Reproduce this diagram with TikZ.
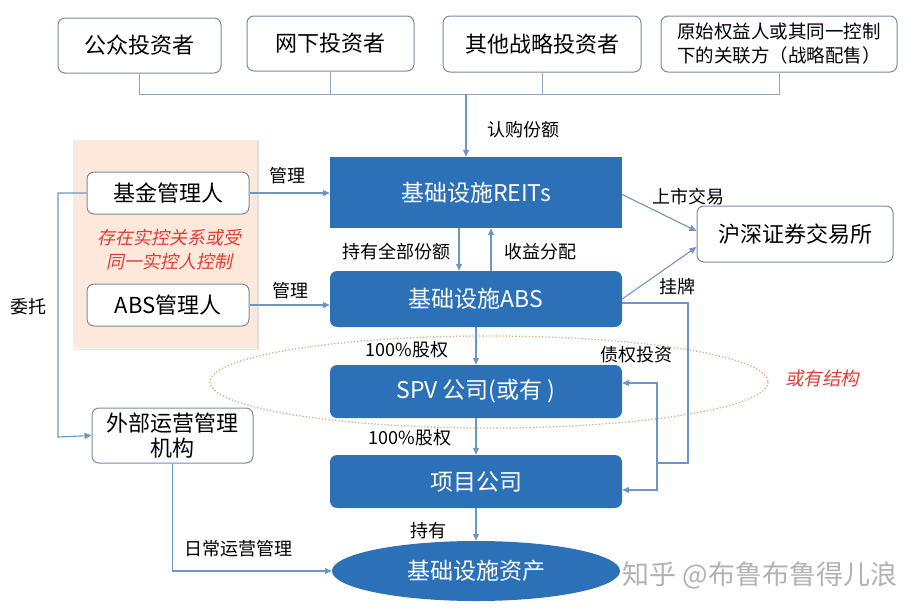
\documentclass[tikz,border=0pt]{standalone}
\usepackage{fontspec}
\setmainfont{Noto Sans CJK SC}
\newfontfamily\slantcjk[FakeSlant=0.2]{Noto Sans CJK SC}
\usepackage{xcolor}
\usetikzlibrary{arrows.meta,calc,positioning,shapes.geometric}
\definecolor{reitblue}{RGB}{44,112,184}
\definecolor{boxline}{RGB}{118,140,160}
\definecolor{linkblue}{RGB}{108,150,196}
\definecolor{busgray}{RGB}{140,168,190}
\definecolor{pinkbg}{RGB}{252,233,220}
\definecolor{notered}{RGB}{222,62,56}
\definecolor{ringtan}{RGB}{226,172,130}

\begin{document}
\begin{tikzpicture}[x=1pt,y=-1pt,>={Triangle[length=7pt,width=6pt]},
  wbox/.style={draw=boxline,line width=1pt,fill=white,rounded corners=7pt,inner sep=0,align=center,font=\fontsize{22}{26}\selectfont},
  bbox/.style={fill=reitblue,text=white,inner sep=0,minimum width=292pt,font=\fontsize{23}{27}\selectfont},
  lbl/.style={font=\fontsize{18}{21}\selectfont,inner sep=0},
  link/.style={draw=linkblue,line width=1.1pt}]
\useasboundingbox (0,0) rectangle (922,613);
% investors on top
\node[wbox,minimum width=163pt,minimum height=55pt] (pub) at (139.5,45.5) {公众投资者};
\node[wbox,minimum width=167pt,minimum height=55pt] (off) at (330.5,43.5) {网下投资者};
\node[wbox,minimum width=198pt,minimum height=56pt] (str) at (542,44) {其他战略投资者};
\node[wbox,minimum width=236pt,minimum height=56pt,font=\fontsize{18.5}{24}\selectfont] (orig) at (779,44) {原始权益人或其同一控制\\下的关联方（战略配售）};
\draw[draw=busgray,line width=1pt] (pub.south) |- (orig.south |- 0,94) -- (orig.south);
\foreach \n in {off,str}{\draw[draw=busgray,line width=1pt] (\n.south) -- (\n.south |- 0,94);}
% managers
\fill[pinkbg] (73,140) rectangle (258,348);
\draw[black!12,line width=1.5pt] (74,349.5) -- (258,349.5) -- (258,141);
\node[wbox,minimum width=162pt,minimum height=42pt] (fund) at (168,193) {基金管理人};
\node[wbox,minimum width=162pt,minimum height=42pt] (absmgr) at (168,305) {ABS管理人};
\node[lbl,text=notered,align=center,font=\slantcjk\fontsize{18}{24}\selectfont] (ctrl) at (169,250) {存在实控关系或受\\同一实控人控制};
\node[wbox,minimum width=161pt,minimum height=55pt,font=\fontsize{22}{25}\selectfont] (ext) at (172.5,435.5) {外部运营管理\\机构};
% main chain
\node[bbox,minimum height=71pt] (reits) at (476,192.5) {基础设施REITs};
\node[bbox,minimum height=56pt,rounded corners=7pt] (abs) at (476,299) {基础设施ABS};
\node[bbox,minimum height=53pt,rounded corners=7pt] (spv) at (476,391.5) {SPV 公司(或有 )};
\node[bbox,minimum height=53pt,rounded corners=7pt] (proj) at (476,481.5) {项目公司};
\node[ellipse,fill=reitblue,text=white,inner sep=0,minimum width=288pt,minimum height=60pt,font=\fontsize{23}{27}\selectfont] (asset) at (476,571) {基础设施资产};
\node[wbox,minimum width=196pt,minimum height=56pt] (exch) at (795,234) {沪深证券交易所};
% optional structure ring
\draw[ringtan,line width=1.3pt,dotted] (489,382) ellipse [x radius=279,y radius=46];
\node[lbl,text=notered,font=\slantcjk\fontsize{18.5}{21}\selectfont] (opt) at (822,378) {或有结构};
% connectors
\coordinate (busin) at (466,94);
\draw[link,->] (busin) -- (busin |- reits.north);
\node[lbl] (sub) at (523,130) {认购份额};
\draw[link,->] (fund.east) -- (fund.east -| reits.west);
\node[lbl] (mg1) at (287,176) {管理};
\draw[link,->] (absmgr.east) -- (absmgr.east -| abs.west);
\node[lbl] (mg2) at (290,291) {管理};
\draw[link,->] ([xshift=-17pt]reits.south) -- ([xshift=-17pt]abs.north);
\node[lbl] (hold) at (396,252) {持有全部份额};
\draw[link,->] ([xshift=15pt]abs.north) -- ([xshift=15pt]reits.south);
\node[lbl] (dist) at (540,252) {收益分配};
\draw[link,->] (abs.south) -- (spv.north);
\node[lbl] (eq1) at (407,350) {100\%股权};
\draw[link,->] (spv.south) -- (proj.north);
\node[lbl] (eq2) at (410,438) {100\%股权};
\draw[link,->] (proj.south) -- (asset.north);
\node[lbl] (own) at (428,531) {持有};
\draw[link,->] ([yshift=-2pt]reits.east) -- ([yshift=3pt]exch.west);
\node[lbl] (list) at (688,197) {上市交易};
\draw[link,->] (abs.east) -- ([yshift=-13pt]exch.west);
\node[lbl] (tag) at (677,287) {挂牌};
\coordinate (debtin) at (657,463);
\draw[link] ([yshift=-4pt]abs.east) -| (688,463) -- (debtin);
\draw[link,<->] ([yshift=8.5pt]spv.east) -| (debtin) |- ([yshift=-8.5pt]proj.east);
\node[lbl] (debt) at (636,355) {债权投资};
\draw[link,->] (fund.west) -| (58,437) -- (ext.west);
\node[lbl] (trust) at (28,307) {委托};
\draw[link,->] (ext.south) |- (asset.west);
\node[lbl] (daily) at (238,549) {日常运营管理};
% watermark
\node[text=black!30,inner sep=0,font=\fontsize{27}{30}\selectfont] (mark) at (760,575) {知乎 @布鲁布鲁得儿浪};
\end{tikzpicture}
\end{document}
